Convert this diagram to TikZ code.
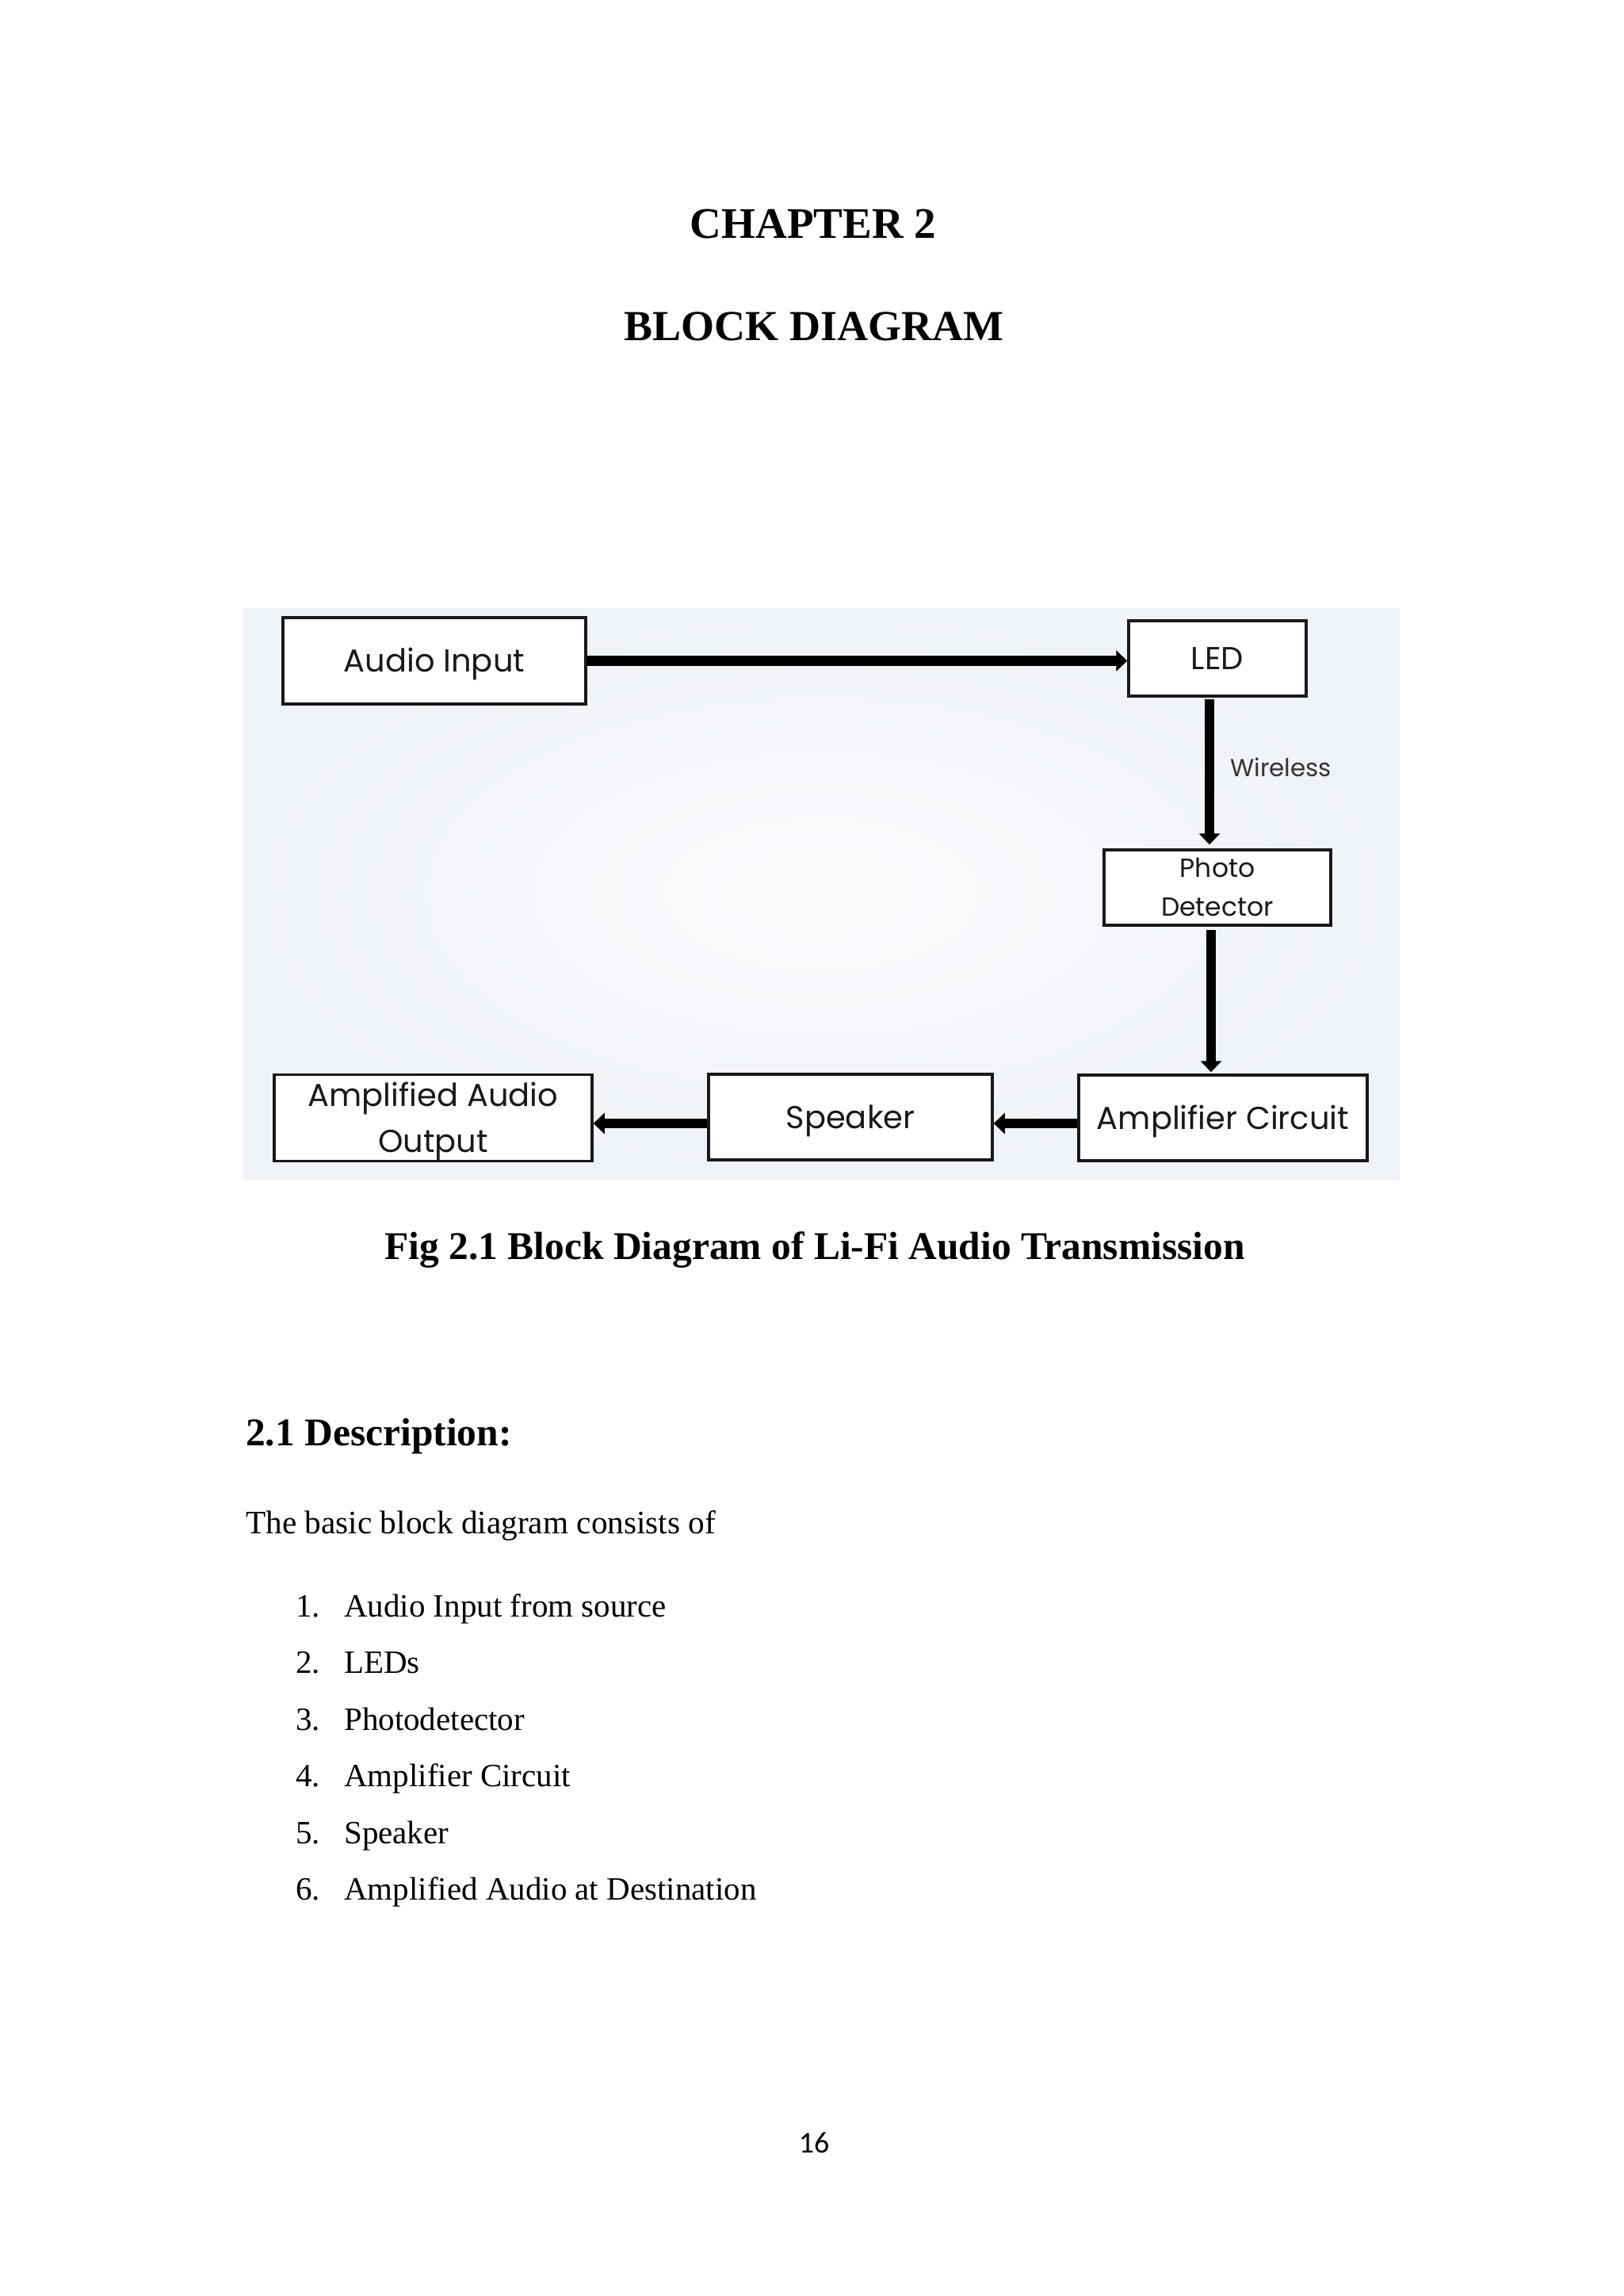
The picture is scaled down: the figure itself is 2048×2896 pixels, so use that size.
\documentclass[tikz,border=0pt]{standalone}
\usepackage{fontspec}
\setmainfont{Liberation Serif}
\newfontfamily\diagfont{Poppins}
\newfontfamily\numfont{Carlito}
\usetikzlibrary{arrows.meta}
\definecolor{bgin}{RGB}{250,251,253}
\definecolor{bgout}{RGB}{239,242,246}
\definecolor{ink}{RGB}{25,25,25}
\begin{document}
\begin{tikzpicture}[x=1pt,y=-1pt,
  txt/.style={inner sep=0pt, text=black},
  box/.style={draw=ink, line width=3.5pt, fill=white, inner sep=0pt, align=center, text=ink,
    font=\diagfont\fontsize{40}{58}\selectfont, text height=28pt, text depth=0pt},
  flow/.style={draw=black, line width=12.5pt, -{Triangle[length=14pt,width=26pt]}}]
\useasboundingbox (0,0) rectangle (2048,2896);
\fill[white] (0,0) rectangle (2048,2896);
% headings
\node[txt, anchor=base, font=\bfseries\fontsize{55}{55}\selectfont] (ch) at (1026,300) {CHAPTER 2};
\node[txt, anchor=base, font=\bfseries\fontsize{54}{54}\selectfont] (bd) at (1027,429) {BLOCK DIAGRAM};
% diagram background
\shade[inner color=bgin, outer color=bgout] (307,767) rectangle (1766,1487);
% blocks
\node[box, minimum width=382pt, minimum height=109pt] (ai) at (548,833.5) {Audio Input};
\node[box, minimum width=224pt, minimum height=95pt] (led) at (1536,830.5) {LED};
\node[box, minimum width=286pt, minimum height=95pt, font=\diagfont\fontsize{33}{49}\selectfont, text height=72pt, text depth=0pt] (pd) at (1536,1119.5) {Photo\\Detector};
\node[box, minimum width=401pt, minimum height=109pt, text height=86pt, text depth=0pt] (out) at (546.5,1410) {Amplified Audio\\Output};
\node[box, minimum width=358pt, minimum height=108pt] (sp) at (1073,1409) {Speaker};
\node[box, minimum width=364pt, minimum height=108pt] (amp) at (1543,1410) {Amplifier Circuit};
\node[txt, anchor=base west, text=black!80, font=\diagfont\fontsize{31}{31}\selectfont] (wl) at (1552,979) {Wireless};
% connectors
\draw[flow] (ai.east) -- (ai.east -| led.west);
\coordinate (c1) at ([xshift=-10pt]led.south);
\draw[flow, shorten <=2pt, shorten >=5pt] (c1) -- (c1 |- pd.north);
\coordinate (c2) at ([xshift=-8pt]pd.south);
\draw[flow, shorten <=4pt, shorten >=2pt] (c2) -- (c2 |- amp.north);
\coordinate (c3) at ([yshift=-7pt]amp.west);
\draw[flow] (c3) -- (c3 -| sp.east);
\coordinate (c4) at ([yshift=-8pt]sp.west);
\draw[flow] (c4) -- (c4 -| out.east);
% caption and text
\node[txt, anchor=base, font=\bfseries\fontsize{49.5}{49.5}\selectfont] (cap) at (1028,1588) {Fig 2.1 Block Diagram of Li-Fi Audio Transmission};
\node[txt, anchor=base west, font=\bfseries\fontsize{49.5}{49.5}\selectfont] (sec) at (310,1823) {2.1 Description:};
\node[txt, anchor=base west, font=\fontsize{41.3}{41.3}\selectfont] (intro) at (310,1934) {The basic block diagram consists of};
\foreach \i/\y/\t in {1/2039/{Audio Input from source}, 2/2110.5/{LEDs}, 3/2182/{Photodetector}, 4/2253.5/{Amplifier Circuit}, 5/2325/{Speaker}, 6/2396/{Amplified Audio at Destination}} {
  \node[txt, anchor=base west, font=\fontsize{41}{41}\selectfont] (n\i) at (373,\y) {\i.};
  \node[txt, anchor=base west, font=\fontsize{41}{41}\selectfont] (t\i) at (434,\y) {\t};
}
\node[txt, anchor=base, font=\numfont\fontsize{38}{38}\selectfont] (pg) at (1027,2715) {16};
\end{tikzpicture}
\end{document}
